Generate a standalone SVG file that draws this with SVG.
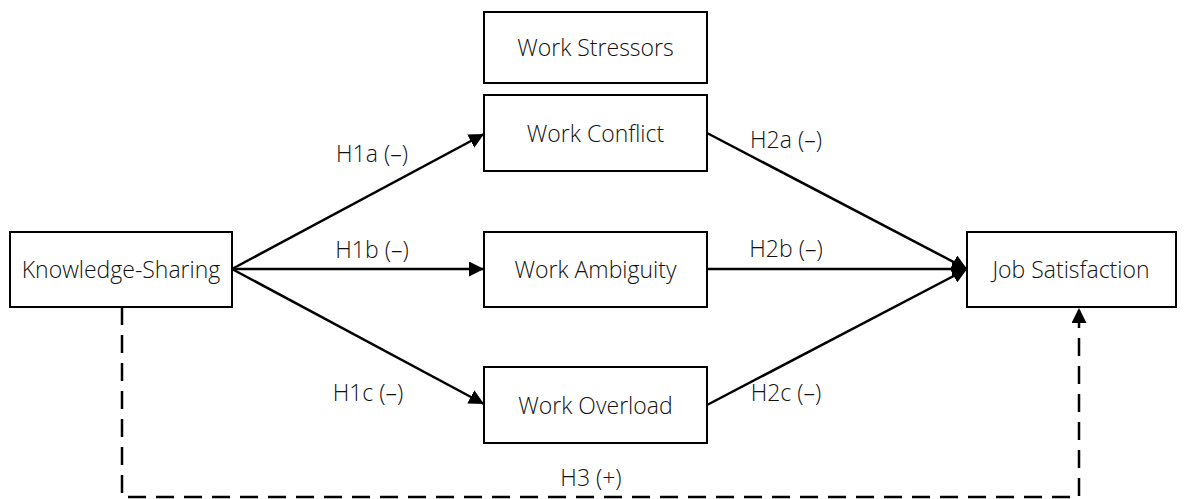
<svg xmlns="http://www.w3.org/2000/svg" width="1184" height="499" viewBox="0 0 1184 499">
<style>
.box{fill:#fff;stroke:#000;stroke-width:2}
.t{font-family:"Open Sans","Liberation Sans",sans-serif;font-weight:300;font-size:23px;fill:#111;text-anchor:middle;dominant-baseline:central}
.c{fill:none;stroke:#000;stroke-width:2.5}
.d{fill:none;stroke:#000;stroke-width:2.5;stroke-dasharray:18 10}
</style>
<defs>
<marker id="ah" viewBox="0 0 10 10" refX="10" refY="5" markerWidth="6" markerHeight="6" orient="auto" markerUnits="strokeWidth">
<path d="M0,0 L10,5 L0,10 z" fill="#000"/>
</marker>
</defs>
<rect width="1184" height="499" fill="#fff"/>
<g id="connectors">
<line class="c" x1="232" y1="269" x2="484" y2="134" marker-end="url(#ah)"/>
<line class="c" x1="232" y1="269" x2="484" y2="269" marker-end="url(#ah)"/>
<line class="c" x1="232" y1="269" x2="484" y2="404" marker-end="url(#ah)"/>
<line class="c" x1="707" y1="133" x2="967" y2="269" marker-end="url(#ah)"/>
<line class="c" x1="707" y1="269" x2="967" y2="269" marker-end="url(#ah)"/>
<line class="c" x1="707" y1="405" x2="967" y2="269" marker-end="url(#ah)"/>
<polyline class="d" points="122,307 122,497 1079,497 1079,308" marker-end="url(#ah)"/>
<text class="t" x="372" y="153">H1a (–)</text>
<text class="t" x="372" y="249">H1b (–)</text>
<text class="t" x="368" y="392">H1c (–)</text>
<text class="t" x="786" y="139">H2a (–)</text>
<text class="t" x="786" y="248">H2b (–)</text>
<text class="t" x="786" y="392">H2c (–)</text>
<text class="t" x="591" y="477">H3 (+)</text>
</g>
<g id="work-stressors"><rect class="box" x="484" y="12" width="223" height="71"/><text class="t" x="595.5" y="47">Work Stressors</text></g>
<g id="work-conflict"><rect class="box" x="484" y="95" width="223" height="76"/><text class="t" x="595.5" y="133">Work Conflict</text></g>
<g id="work-ambiguity"><rect class="box" x="484" y="232" width="223" height="75"/><text class="t" x="595.5" y="269">Work Ambiguity</text></g>
<g id="work-overload"><rect class="box" x="484" y="367" width="223" height="76"/><text class="t" x="595.5" y="405">Work Overload</text></g>
<g id="knowledge-sharing"><rect class="box" x="10" y="232" width="222" height="75"/><text class="t" x="121" y="269">Knowledge-Sharing</text></g>
<g id="job-satisfaction"><rect class="box" x="967" y="232" width="209" height="75"/><text class="t" x="1071" y="269">Job Satisfaction</text></g>
</svg>
